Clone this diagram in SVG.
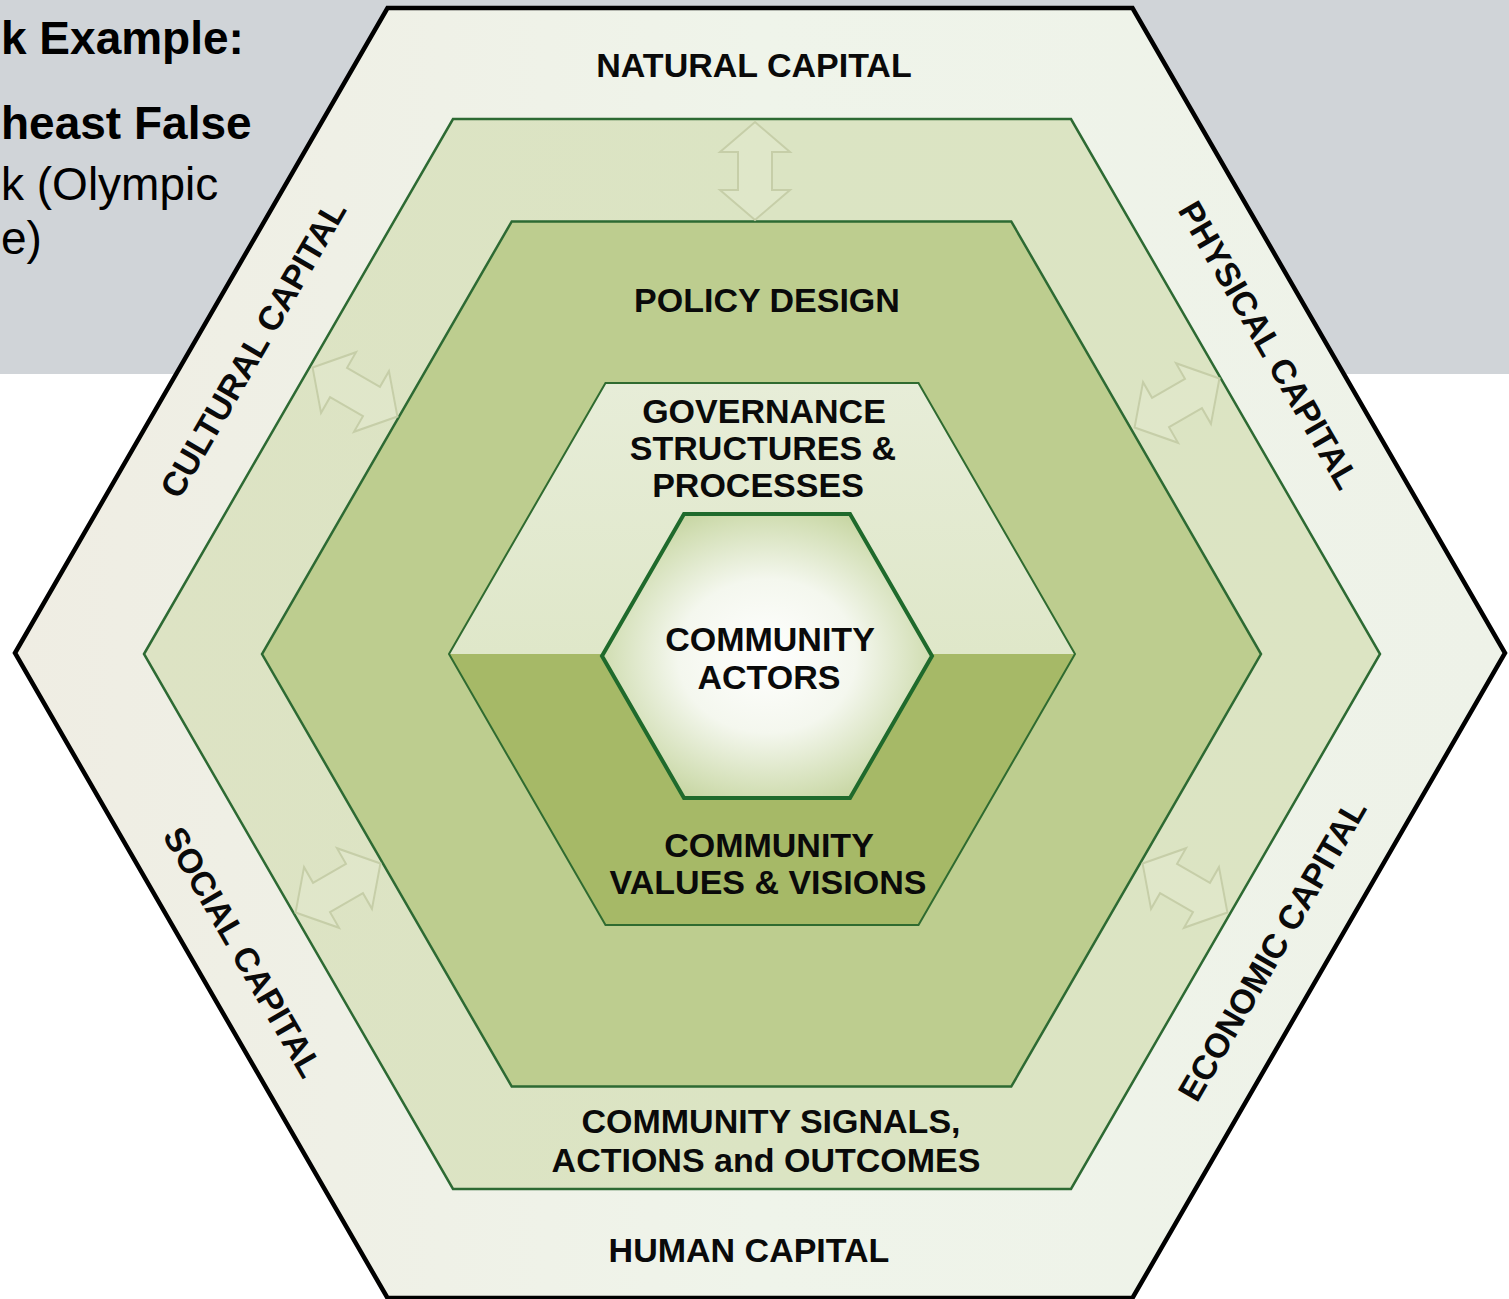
<svg xmlns="http://www.w3.org/2000/svg" width="1509" height="1299" viewBox="0 0 1509 1299">
<defs>
<style>
.lbl{font-family:"Liberation Sans",Arial,Helvetica,sans-serif;font-weight:bold;font-size:34px;fill:#0a0a0a;text-anchor:middle}
.side{font-family:"Liberation Sans",Arial,Helvetica,sans-serif;font-size:46px;fill:#000}
.ring{stroke:#2d6a33;stroke-width:2.5;stroke-linejoin:miter}
.arrow{fill:#e3e9cf;fill-opacity:0.5;stroke:#c6cea8;stroke-width:2;stroke-linejoin:miter}
</style>
<linearGradient id="gOuter" x1="0" y1="0" x2="1" y2="0">
<stop offset="0" stop-color="#efede3"/>
<stop offset="0.5" stop-color="#eff4ea"/>
<stop offset="1" stop-color="#eef2e8"/>
</linearGradient>
<linearGradient id="gRing1" x1="0" y1="0" x2="1" y2="0">
<stop offset="0" stop-color="#dde3c4"/>
<stop offset="0.5" stop-color="#dbe4c3"/>
<stop offset="1" stop-color="#dce4c3"/>
</linearGradient>
<linearGradient id="gTop3" x1="0" y1="0" x2="0" y2="1">
<stop offset="0" stop-color="#e7edd8"/>
<stop offset="1" stop-color="#dfe7c9"/>
</linearGradient>
<radialGradient id="gInner" cx="0.5" cy="0.5" r="0.6">
<stop offset="0" stop-color="#ffffff"/>
<stop offset="0.45" stop-color="#f4f7ee"/>
<stop offset="0.8" stop-color="#d3dfb6"/>
<stop offset="1" stop-color="#bfcf96"/>
</radialGradient>
<polygon id="dblArrow" points="0,-49 35,-19 17,-19 17,19 35,19 0,49 -35,19 -17,19 -17,-19 -35,-19"/>
</defs>

<g id="background">
<rect x="0" y="0" width="1509" height="1299" fill="#ffffff"/>
<rect x="0" y="0" width="1509" height="374" fill="#d0d4d8"/>
<text class="side" x="1" y="54" font-weight="bold">k Example:</text>
<text class="side" x="1" y="139" font-weight="bold">heast False</text>
<text class="side" x="1" y="200">k (Olympic</text>
<text class="side" x="1" y="254">e)</text>
</g>

<g id="node-capitals">
<polygon points="15,653 387.5,8 1132.5,8 1505,653 1132.5,1298 387.5,1298" fill="url(#gOuter)" stroke="#000" stroke-width="4.5" stroke-linejoin="miter"/>
<text class="lbl" x="754" y="77">NATURAL CAPITAL</text>
<text class="lbl" x="749" y="1262">HUMAN CAPITAL</text>
<text class="lbl" transform="translate(253,349) rotate(-60)" x="0" y="12">CULTURAL CAPITAL</text>
<text class="lbl" transform="translate(1269,345) rotate(60)" x="0" y="12">PHYSICAL CAPITAL</text>
<text class="lbl" transform="translate(243,952) rotate(60)" x="0" y="12">SOCIAL CAPITAL</text>
<text class="lbl" transform="translate(1272,950) rotate(-60)" x="0" y="12">ECONOMIC CAPITAL</text>
</g>

<g id="node-signals">
<polygon class="ring" points="144,654 453,119 1071,119 1380,654 1071,1189 453,1189" fill="url(#gRing1)"/>
<text class="lbl" x="771" y="1133">COMMUNITY SIGNALS,</text>
<text class="lbl" x="766" y="1172">ACTIONS and OUTCOMES</text>
</g>

<g id="node-policy">
<polygon class="ring" points="262,654 511.75,221.4 1011.25,221.4 1261,654 1011.25,1086.6 511.75,1086.6" fill="#bdcd8f"/>
<text class="lbl" x="767" y="312">POLICY DESIGN</text>
</g>

<g id="node-governance">
<polygon points="449,654 605.5,383 918.5,383 1075,654" fill="url(#gTop3)"/>
<text class="lbl" x="764" y="423">GOVERNANCE</text>
<text class="lbl" x="763" y="460">STRUCTURES &amp;</text>
<text class="lbl" x="758" y="497">PROCESSES</text>
</g>

<g id="node-values">
<polygon points="449,654 1075,654 918.5,925 605.5,925" fill="#a6b967"/>
<text class="lbl" x="769" y="857">COMMUNITY</text>
<text class="lbl" x="768" y="894">VALUES &amp; VISIONS</text>
</g>

<g id="ring3-outline">
<polygon points="449,654 605.5,383 918.5,383 1075,654 918.5,925 605.5,925" fill="none" stroke="#2f6b30" stroke-width="2"/>
</g>

<g id="node-actors">
<polygon points="602,656 684,514 850,514 932,656 850,798 684,798" fill="url(#gInner)" stroke="#1f6a2c" stroke-width="4"/>
<text class="lbl" x="770" y="651">COMMUNITY</text>
<text class="lbl" x="769" y="689">ACTORS</text>
</g>

<g id="connectors">
<use href="#dblArrow" class="arrow" transform="translate(755,171)"/>
<use href="#dblArrow" class="arrow" transform="translate(355,392) rotate(-60)"/>
<use href="#dblArrow" class="arrow" transform="translate(1177,403) rotate(60)"/>
<use href="#dblArrow" class="arrow" transform="translate(338,888) rotate(60)"/>
<use href="#dblArrow" class="arrow" transform="translate(1185,888) rotate(-60)"/>
</g>
</svg>
